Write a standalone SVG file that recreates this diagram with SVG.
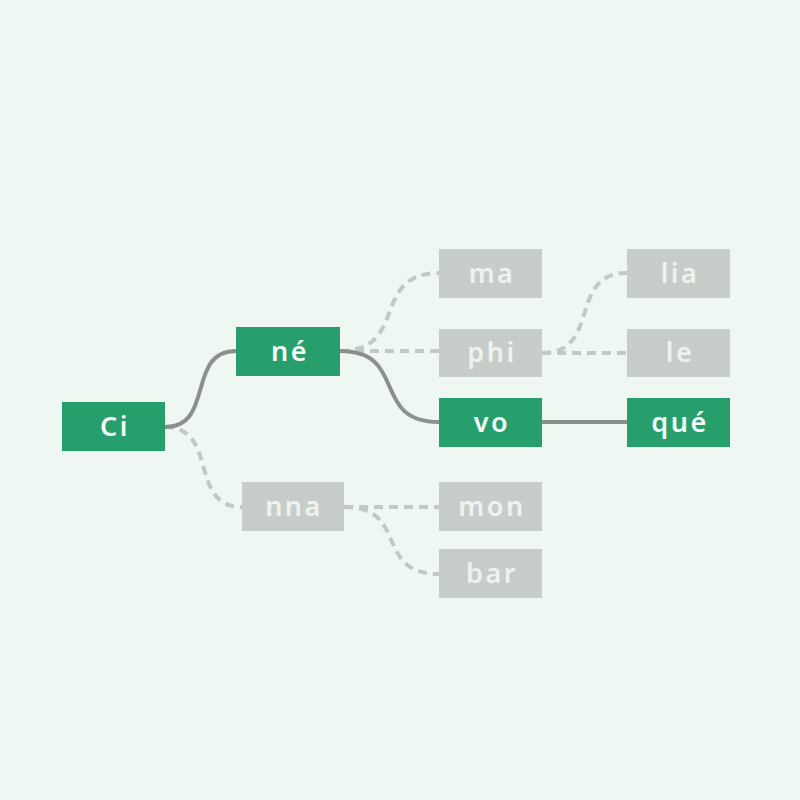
<svg xmlns="http://www.w3.org/2000/svg" width="800" height="800" viewBox="0 0 800 800">
<style>
.bg{fill:#eff7f3}
.on rect{fill:#279f6c}
.off rect{fill:#c7cec9}
text{font-family:"Noto Sans","Liberation Sans",sans-serif;font-size:27px;font-weight:600;letter-spacing:2.5px;text-anchor:middle}
.on text{fill:#f4faf7}
.off text{fill:#eef3f0}
.solid{fill:none;stroke:#8b908d;stroke-width:4}
.dash{fill:none;stroke:#c2c8c4;stroke-width:4;stroke-dasharray:9 6}
</style>
<rect class="bg" x="0" y="0" width="800" height="800"/>
<g id="connectors">
<path class="dash" d="M165,427 C219,427 188,507 242,507"/>
<path class="dash" d="M340,351 C409,351 370,273 439,273"/>
<path class="dash" d="M340,351 L439,351"/>
<path class="dash" d="M542,353 C602,353 567,273 627,273"/>
<path class="dash" d="M542,353 L627,353"/>
<path class="dash" d="M344,507 L439,507"/>
<path class="dash" d="M344,507 C410,507 373,574 439,574"/>
<path class="solid" d="M165,427 C215,427 186,351 236,351"/>
<path class="solid" d="M340,351 C409,351 370,422 439,422"/>
<path class="solid" d="M542,422 L627,422"/>
</g>
<g id="node-ci" class="on"><rect x="62" y="402" width="103" height="49"/><text x="115" y="436">Ci</text></g>
<g id="node-ne" class="on"><rect x="236" y="327" width="104" height="49"/><text x="290" y="361">né</text></g>
<g id="node-vo" class="on"><rect x="439" y="398" width="103" height="49"/><text x="492" y="432">vo</text></g>
<g id="node-que" class="on"><rect x="627" y="398" width="103" height="49"/><text x="680" y="432">qué</text></g>
<g id="node-ma" class="off"><rect x="439" y="249" width="103" height="49"/><text x="492" y="283">ma</text></g>
<g id="node-phi" class="off"><rect x="439" y="329" width="103" height="48"/><text x="492" y="362">phi</text></g>
<g id="node-lia" class="off"><rect x="627" y="249" width="103" height="49"/><text x="680" y="283">lia</text></g>
<g id="node-le" class="off"><rect x="627" y="329" width="103" height="48"/><text x="680" y="362">le</text></g>
<g id="node-nna" class="off"><rect x="242" y="482" width="102" height="49"/><text x="294" y="516">nna</text></g>
<g id="node-mon" class="off"><rect x="439" y="482" width="103" height="49"/><text x="492" y="516">mon</text></g>
<g id="node-bar" class="off"><rect x="439" y="549" width="103" height="49"/><text x="492" y="583">bar</text></g>
</svg>
